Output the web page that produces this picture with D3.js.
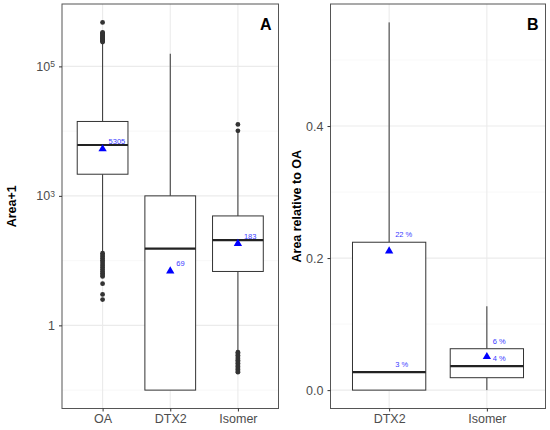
<!DOCTYPE html>
<html>
<head>
<meta charset="utf-8">
<script src="https://cdn.jsdelivr.net/npm/d3@7"></script>
<style>
  body { margin: 0; background: #fff; }
  text { font-family: "Liberation Sans", Arial, sans-serif; }
</style>
</head>
<body>
<svg id="chart" width="550" height="430"></svg>
<script>
// panel A: Area+1 (log scale)
const catsA = ["OA", "DTX2", "Isomer"];
const loA = [135, 1, 4];
const q1A = [2160, 1, 68];
const medA = [6100, 153, 208];
const q3A = [14100, 1000, 490];
const hiA = [225000, 156700, 9330];
const meanA = [5305, 69, 183];
const meanLabelA = ["5305", "69", "183"];
const outOA = [478000, 335000, 325000, 315000, 305000, 296000, 288000, 280000, 272000, 265000, 258000, 250000, 244000, 238000,
  130, 122, 115, 108, 101, 95, 89, 83, 78, 73, 68, 64, 60, 57, 44, 30, 25];
const outDTX2 = [];
const outIsomer = [12680, 10120, 3.85, 3.65, 3.45, 3.25, 3.05, 2.9, 2.75, 2.6, 2.45, 2.32, 2.2, 2.08, 1.98, 1.89];
const ticksA = [10, 1000, 100000];
const tickBaseA = ["1", "10", "10"];
const tickExpA = ["", "3", "5"];

// panel B: area relative to OA
const catsB = ["DTX2", "Isomer"];
const loB = [0, 0];
const q1B = [0, 0.0188];
const medB = [0.0273, 0.0363];
const q3B = [0.224, 0.0627];
const hiB = [0.557, 0.127];
const meanB = [0.2106, 0.0506];
const ticksB = [0, 0.2, 0.4];

const svg = d3.select("#chart");
const pTop = 4, pBottom = 408.5;
const grey = "#333333";

function drawPanel(opt) {
  const g = svg.append("g");
  const x = d3.scalePoint().domain(opt.cats).range([opt.left, opt.right]).padding(0.6);
  const step = x.step();
  const bw = step * 0.75;
  const y = opt.y;

  // grid
  g.selectAll(".minor").data(opt.minor).join("line")
    .attr("x1", opt.left).attr("x2", opt.right)
    .attr("y1", d => y(d)).attr("y2", d => y(d))
    .attr("stroke", "#f3f3f3").attr("stroke-width", 0.6);
  g.selectAll(".major").data(opt.ticks).join("line")
    .attr("x1", opt.left).attr("x2", opt.right)
    .attr("y1", d => y(d)).attr("y2", d => y(d))
    .attr("stroke", "#ebebeb").attr("stroke-width", 1.1);
  g.selectAll(".vgrid").data(opt.cats).join("line")
    .attr("x1", d => x(d)).attr("x2", d => x(d))
    .attr("y1", pTop).attr("y2", pBottom)
    .attr("stroke", "#ebebeb").attr("stroke-width", 1.1);

  const data = opt.cats.map((c, i) => ({
    c: c, lo: opt.lo[i], q1: opt.q1[i], med: opt.med[i], q3: opt.q3[i],
    hi: opt.hi[i], mean: opt.mean[i], out: opt.out ? opt.out[i] : []
  }));

  // whiskers
  g.selectAll(".wu").data(data).join("line")
    .attr("x1", d => x(d.c)).attr("x2", d => x(d.c))
    .attr("y1", d => y(d.q3)).attr("y2", d => y(d.hi))
    .attr("stroke", grey).attr("stroke-width", 1);
  g.selectAll(".wl").data(data).join("line")
    .attr("x1", d => x(d.c)).attr("x2", d => x(d.c))
    .attr("y1", d => y(d.q1)).attr("y2", d => y(d.lo))
    .attr("stroke", grey).attr("stroke-width", 1);
  // boxes
  g.selectAll(".box").data(data).join("rect")
    .attr("x", d => x(d.c) - bw / 2).attr("width", bw)
    .attr("y", d => y(d.q3)).attr("height", d => y(d.q1) - y(d.q3))
    .attr("fill", "#fff").attr("stroke", grey).attr("stroke-width", 1);
  g.selectAll(".med").data(data).join("line")
    .attr("x1", d => x(d.c) - bw / 2).attr("x2", d => x(d.c) + bw / 2)
    .attr("y1", d => y(d.med)).attr("y2", d => y(d.med))
    .attr("stroke", "#222").attr("stroke-width", 2.2);
  // outliers
  data.forEach(d => {
    g.selectAll(null).data(d.out).join("circle")
      .attr("cx", x(d.c)).attr("cy", v => y(v)).attr("r", 2.4)
      .attr("fill", grey);
  });
  // means
  g.selectAll(".mean").data(data).join("path")
    .attr("d", d3.symbol(d3.symbolTriangle, 30))
    .attr("transform", d => `translate(${x(d.c)},${y(d.mean)})`)
    .attr("fill", "blue");
  // value labels
  g.selectAll(".lab").data(opt.labels(data)).join("text")
    .attr("x", d => x(d.c) + 6).attr("y", d => y(d.v) - 5)
    .attr("font-size", 7.5).attr("fill", "#3a3aff")
    .text(d => d.t);

  // border
  g.append("rect").attr("x", opt.left).attr("y", pTop)
    .attr("width", opt.right - opt.left).attr("height", pBottom - pTop)
    .attr("fill", "none").attr("stroke", "#555").attr("stroke-width", 1);

  // axes
  const ax = g.append("g").attr("transform", `translate(${opt.left},0)`)
    .call(d3.axisLeft(y).tickValues(opt.ticks).tickSize(3).tickPadding(4).tickFormat(opt.fmt));
  ax.select(".domain").remove();
  ax.selectAll(".tick line").attr("stroke", grey);
  ax.selectAll(".tick text").attr("font-size", 12.5).attr("fill", "#4d4d4d")
    .attr("font-family", "Liberation Sans, Arial, sans-serif");
  if (opt.sup) {
    ax.selectAll(".tick text").text(null).each(function (d, i) {
      const t = d3.select(this);
      t.append("tspan").text(opt.sup.base[i]);
      if (opt.sup.exp[i]) t.append("tspan").attr("dy", "-0.45em").attr("font-size", 8.5).text(opt.sup.exp[i]);
    });
  }
  const bx = g.append("g").attr("transform", `translate(0,${pBottom})`)
    .call(d3.axisBottom(x).tickSize(3).tickPadding(3));
  bx.select(".domain").remove();
  bx.selectAll(".tick line").attr("stroke", grey);
  bx.selectAll(".tick text").attr("font-size", 12.5).attr("fill", "#4d4d4d")
    .attr("font-family", "Liberation Sans, Arial, sans-serif");

  // titles
  g.append("text")
    .attr("transform", `translate(${opt.titleX},${(pTop + pBottom) / 2}) rotate(-90)`)
    .attr("text-anchor", "middle").attr("font-size", 12.5).attr("font-weight", "bold")
    .attr("fill", "#000").text(opt.title);
  g.append("text").attr("x", opt.right - 7).attr("y", 30)
    .attr("text-anchor", "end").attr("font-size", 16).attr("font-weight", "bold")
    .text(opt.tag);
}

// log range padded like ggplot (5% in log space)
const lmin = Math.log10(d3.min([...q1A, ...loA, ...outOA, ...outIsomer]));
const lmax = Math.log10(d3.max([...hiA, ...outOA, ...outIsomer]));
const pad = (lmax - lmin) * 0.05;
const yA = d3.scaleLog().domain([10 ** (lmin - pad), 10 ** (lmax + pad)]).range([pBottom, pTop]);

drawPanel({
  cats: catsA, left: 62, right: 278.5, y: yA,
  lo: loA, q1: q1A, med: medA, q3: q3A, hi: hiA, mean: meanA,
  out: [outOA, outDTX2, outIsomer],
  ticks: ticksA, minor: [1, 100, 10000],
  fmt: (d, i) => tickBaseA[i],
  sup: { base: tickBaseA, exp: tickExpA },
  labels: data => data.map((d, i) => ({ c: d.c, v: d.mean, t: meanLabelA[i] })),
  title: "Area+1", titleX: 16, tag: "A"
});

const maxB = d3.max(hiB);
const yB = d3.scaleLinear().domain([-maxB * 0.05, maxB * 1.05]).range([pBottom, pTop]);

drawPanel({
  cats: catsB, left: 330.5, right: 545.5, y: yB,
  lo: loB, q1: q1B, med: medB, q3: q3B, hi: hiB, mean: meanB,
  ticks: ticksB, minor: [0.1, 0.3, 0.5],
  fmt: d3.format(".1f"),
  labels: data => data.flatMap(d => [
    { c: d.c, v: d.q3, t: Math.round(d.q3 * 100) + " %" },
    { c: d.c, v: d.med, t: Math.round(d.med * 100) + " %" }
  ]),
  title: "Area relative to OA", titleX: 301, tag: "B"
});
</script>
</body>
</html>
